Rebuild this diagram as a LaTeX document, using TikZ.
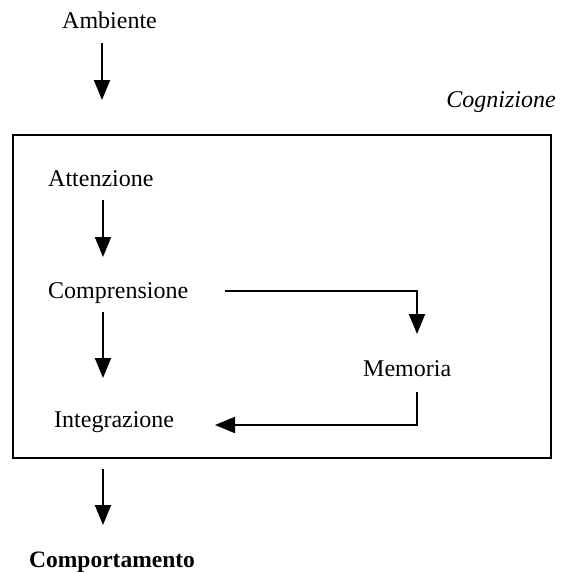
\documentclass[tikz,border=0pt]{standalone}
\usepackage{fontspec}
\setmainfont{Liberation Serif}
\usetikzlibrary{arrows.meta}
\tikzset{
  lbl/.style={inner sep=0pt, anchor=base west, font=\fontsize{24}{28}\selectfont},
  flow/.style={line width=2pt, -{Triangle[width=16pt,length=20pt]}},
  frame/.style={line width=2pt}
}
\begin{document}
\begin{tikzpicture}[x=1pt,y=-1pt]
\useasboundingbox (0,0) rectangle (560,573);
% outer frame of the cognition block
\draw[frame] (13,135) rectangle (551,458);
% labels
\node[lbl] (amb) at (62,28) {Ambiente};
\node[lbl, anchor=base east, font=\fontsize{24}{28}\selectfont\itshape] (cog) at (556,107) {Cognizione};
\node[lbl] (att) at (48,186) {Attenzione};
\node[lbl] (comp) at (48,298) {Comprensione};
\node[lbl] (mem) at (363,376) {Memoria};
\node[lbl] (integ) at (54,427) {Integrazione};
\node[lbl, font=\fontsize{23.5}{28}\selectfont\bfseries] (beh) at (29,567) {Comportamento};
% connector end points
\coordinate (a1) at (102,43);  \coordinate (a2) at (102,100);
\coordinate (b1) at (103,200); \coordinate (b2) at (103,257);
\coordinate (c1) at (225,291); \coordinate (c2) at (417,291); \coordinate (c3) at (417,334);
\coordinate (d1) at (103,312); \coordinate (d2) at (103,378);
\coordinate (e1) at (417,392); \coordinate (e2) at (417,425); \coordinate (e3) at (215,425);
\coordinate (f1) at (103,469); \coordinate (f2) at (103,525);
% arrows
\draw[flow] (a1) -- (a2);
\draw[flow] (b1) -- (b2);
\draw[flow] (c1) -- (c2) -- (c3);
\draw[flow] (d1) -- (d2);
\draw[flow] (e1) -- (e2) -- (e3);
\draw[flow] (f1) -- (f2);
\end{tikzpicture}
\end{document}
